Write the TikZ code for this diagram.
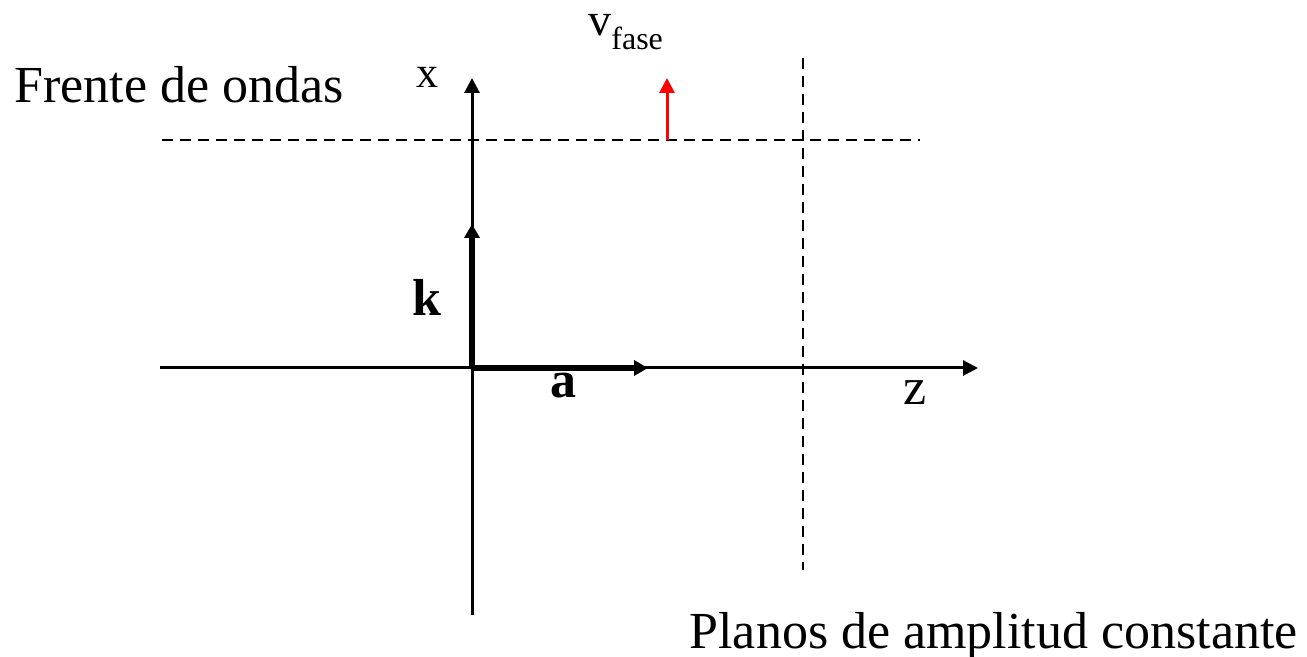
\documentclass[tikz,border=0pt]{standalone}
\usepackage{fontspec}
\setmainfont{Liberation Serif}
\usepackage{xcolor}
\usetikzlibrary{arrows.meta,positioning}

\begin{document}
\begin{tikzpicture}[x=0.5pt,y=-0.5pt,
  axis/.style={line width=1.5pt,-{Triangle[length=7.5pt,width=7.5pt]}},
  vec/.style={line width=3pt,-{Triangle[length=7pt,width=7.5pt]}},
  plane/.style={line width=1pt,dash pattern=on 5.5pt off 3.5pt},
  lbl/.style={inner sep=0pt,font=\fontsize{26}{30}\selectfont}
]
  \useasboundingbox (0,0) rectangle (1307,657);
  % points of the axes
  \coordinate (o) at (472,368);
  \coordinate (xlo) at (472,615);
  \coordinate (xhi) at (472,78);
  \coordinate (zlo) at (160,368);
  \coordinate (zhi) at (978,368);
  \coordinate (khi) at (472,224);
  \coordinate (ahi) at (648,368);
  % wave front and plane of constant amplitude
  \coordinate (fl) at (162,140);
  \coordinate (fr) at (920,140);
  \coordinate (pt) at (803,58);
  \coordinate (pb) at (803,570);
  \coordinate (vlo) at (667,140);
  \coordinate (vhi) at (667,78);
  \draw[axis] (xlo) -- (xhi);
  \draw[axis] (zlo) -- (zhi);
  \draw[plane] (fl) -- (fr);
  \draw[plane] (pt) -- (pb);
  \draw[vec] (o) -- (khi);
  \draw[vec] (o) -- (ahi);
  \draw[red,line width=1.5pt,-{Triangle[length=7.5pt,width=7.5pt]}] (vlo) -- (vhi);
  % labels
  \node[lbl,anchor=base west] (frente) at (14,103) {Frente de ondas};
  \node[lbl,anchor=base,font=\fontsize{22}{26}\selectfont] (xlab) at (427,88) {x};
  \node[lbl,anchor=base west,font=\fontsize{23}{26}\selectfont] (vfase) at (588,36) {v\raisebox{-0.3em}{\fontsize{16}{19}\selectfont fase}};
  \node[lbl,anchor=base,font=\fontsize{26}{30}\selectfont\bfseries] (klab) at (427,316) {k};
  \node[lbl,anchor=base,font=\fontsize{26}{30}\selectfont\bfseries] (alab) at (563,398) {a};
  \node[lbl,anchor=base] (zlab) at (915,405) {z};
  \node[lbl,anchor=base east] (planos) at (1298,648) {Planos de amplitud constante};
\end{tikzpicture}
\end{document}
